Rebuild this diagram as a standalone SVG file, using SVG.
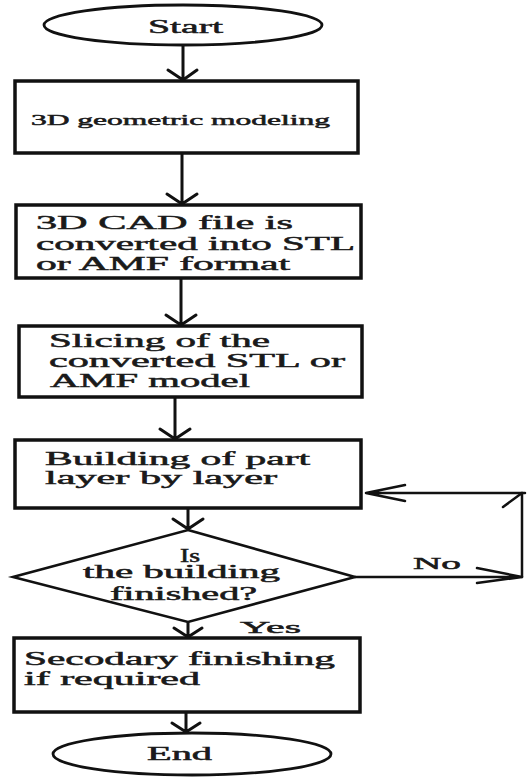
<svg xmlns="http://www.w3.org/2000/svg" width="531" height="777" viewBox="0 0 531 777">
<style>
text{font-family:"Liberation Serif","DejaVu Serif","Times New Roman",serif;fill:#1a1a1a;stroke:#1a1a1a;stroke-width:0.5;}
.box{fill:#fff;stroke:#111;stroke-width:3.5;}
.term{fill:#fff;stroke:#111;stroke-width:2.8;}
.dia{fill:#fff;stroke:#111;stroke-width:2.6;}
.c{fill:none;stroke:#111;stroke-width:3;stroke-linecap:round;stroke-linejoin:round;}
.l{fill:none;stroke:#111;stroke-width:2.5;stroke-linecap:round;stroke-linejoin:round;}
</style>
<rect width="531" height="777" fill="#fff"/>
<g id="connectors">
<path class="c" d="M183 45V80M168 70L183 80L197 70"/>
<path class="c" d="M182 154V204M167 194L182 204L197 194"/>
<path class="c" d="M181 279V325M166 315L181 325L196 315"/>
<path class="c" d="M175 398V439M160 429L175 439L190 429"/>
<path class="c" d="M188 509V529M173 519L188 529L203 519"/>
<path class="c" d="M188 623V637M174 628L188 637L202 628"/>
<path class="c" d="M186 713V732M172 723L186 732L200 723"/>
<path class="l" d="M355 577H522M477 568L522 577L477 583"/>
<path class="l" d="M522 577V493M503 507L522 493"/>
<path class="l" d="M525 493H366M405 485L366 493L405 501"/>
</g>
<g id="start">
<ellipse class="term" cx="183" cy="25" rx="139" ry="20"/>
<text x="148" y="33" font-size="19" textLength="75" lengthAdjust="spacingAndGlyphs">Start</text>
</g>
<g id="n1">
<rect class="box" x="15" y="81" width="343" height="72"/>
<text x="31" y="125" font-size="15" textLength="299" lengthAdjust="spacingAndGlyphs">3D geometric modeling</text>
</g>
<g id="n2">
<rect class="box" x="16" y="205" width="345" height="73"/>
<text x="36" y="229" font-size="19" textLength="257" lengthAdjust="spacingAndGlyphs">3D CAD file is</text>
<text x="36" y="250" font-size="19" textLength="319" lengthAdjust="spacingAndGlyphs">converted into STL</text>
<text x="36" y="270" font-size="19" textLength="254" lengthAdjust="spacingAndGlyphs">or AMF format</text>
</g>
<g id="n3">
<rect class="box" x="19" y="326" width="343" height="71"/>
<text x="49" y="347" font-size="19" textLength="221" lengthAdjust="spacingAndGlyphs">Slicing of the</text>
<text x="49" y="367" font-size="19" textLength="296" lengthAdjust="spacingAndGlyphs">converted STL or</text>
<text x="50" y="387" font-size="19" textLength="200" lengthAdjust="spacingAndGlyphs">AMF model</text>
</g>
<g id="n4">
<rect class="box" x="15" y="440" width="346" height="68"/>
<text x="45" y="465" font-size="18" textLength="265" lengthAdjust="spacingAndGlyphs">Building of part</text>
<text x="45" y="484" font-size="18" textLength="232" lengthAdjust="spacingAndGlyphs">layer by layer</text>
</g>
<g id="decision">
<polygon class="dia" points="188,530 355,577 188,622 13,577"/>
<text x="180" y="562" font-size="18" textLength="20" lengthAdjust="spacingAndGlyphs">Is</text>
<text x="83" y="578" font-size="18" textLength="197" lengthAdjust="spacingAndGlyphs">the building</text>
<text x="110" y="600" font-size="18" textLength="147" lengthAdjust="spacingAndGlyphs">finished?</text>
</g>
<g id="labels">
<text x="413" y="569" font-size="17" textLength="48" lengthAdjust="spacingAndGlyphs">No</text>
<text x="240" y="633" font-size="17" textLength="61" lengthAdjust="spacingAndGlyphs">Yes</text>
</g>
<g id="n5">
<rect class="box" x="14" y="638" width="346" height="74"/>
<text x="24" y="665" font-size="18" textLength="311" lengthAdjust="spacingAndGlyphs">Secodary finishing</text>
<text x="24" y="685" font-size="18" textLength="176" lengthAdjust="spacingAndGlyphs">if required</text>
</g>
<g id="end">
<ellipse class="term" cx="192" cy="754" rx="139" ry="21"/>
<text x="147" y="760" font-size="18" textLength="65" lengthAdjust="spacingAndGlyphs">End</text>
</g>
</svg>
